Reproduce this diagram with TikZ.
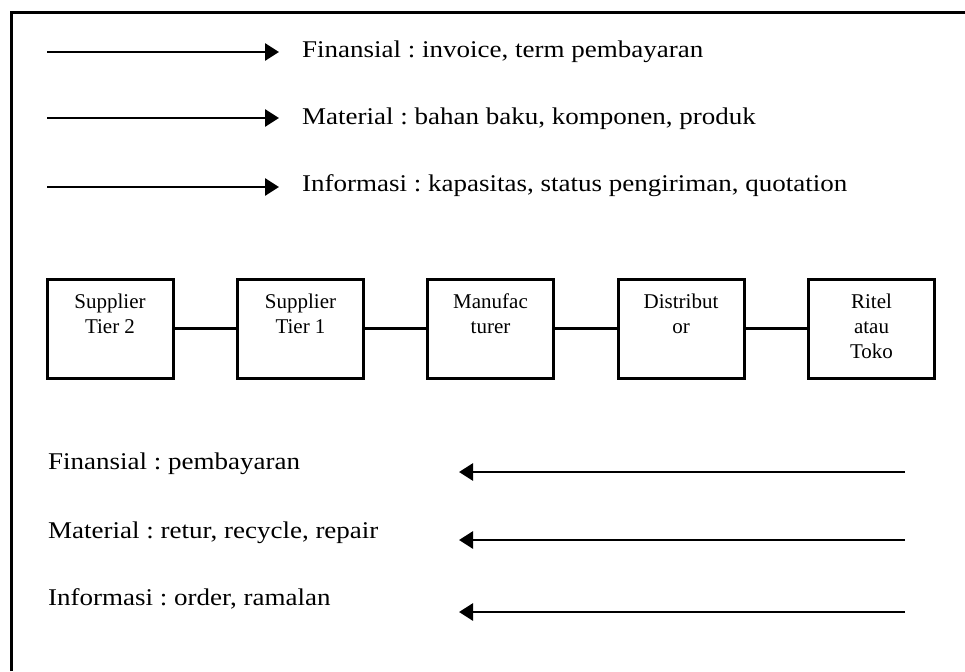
\documentclass[tikz,border=0pt]{standalone}
\usepackage{fontspec}
\setmainfont{Liberation Serif}
\newfontfamily\legfont{Liberation Serif}[FakeStretch=1.125]
\newfontfamily\boxfont{Liberation Serif}
\usetikzlibrary{arrows.meta,calc}
\frenchspacing
\tikzset{
  frameline/.style={line width=3pt},
  legarrow/.style={line width=2.8pt,-{Triangle[length=14pt,width=17pt]}},
  legtext/.style={anchor=base west,inner sep=0pt,font=\legfont\fontsize{24}{28}\selectfont},
  chainbox/.style={draw,line width=3pt,minimum width=126pt,minimum height=99pt,inner sep=0pt},
  boxtext/.style={anchor=north,inner sep=0pt,align=center,font=\boxfont\fontsize{21}{25}\selectfont},
  link/.style={line width=2.8pt}
}
\begin{document}
\begin{tikzpicture}[x=1pt,y=-1pt]
\useasboundingbox (0,0) rectangle (965,671);
\clip (0,0) rectangle (965,671);
\fill[white] (0,0) rectangle (965,671);
% frame
\draw[frameline] (11.5,671) |- (965,13);
% top legend
\coordinate (t1s) at (47,52);  \coordinate (t1e) at (279,52);
\coordinate (t2s) at (47,118); \coordinate (t2e) at (279,118);
\coordinate (t3s) at (47,187); \coordinate (t3e) at (279,187);
\draw[legarrow] (t1s) -- (t1e);
\draw[legarrow] (t2s) -- (t2e);
\draw[legarrow] (t3s) -- (t3e);
\node[legtext] (tl1) at (302,58) {Finansial : invoice, term pembayaran};
\node[legtext] (tl2) at (302,125) {Material : bahan baku, komponen, produk};
\node[legtext] (tl3) at (302,191) {Informasi : kapasitas, status pengiriman, quotation};
% chain boxes
\node[chainbox] (b1) at (110,328.5) {};
\node[chainbox] (b2) at (300.5,328.5) {};
\node[chainbox] (b3) at (490.5,328.5) {};
\node[chainbox] (b4) at (681,328.5) {};
\node[chainbox] (b5) at (871.5,328.5) {};
\node[boxtext] (x1) at ($(b1.north)+(0,16)$) {Supplier\\Tier 2};
\node[boxtext] (x2) at ($(b2.north)+(0,16)$) {Supplier\\Tier 1};
\node[boxtext] (x3) at ($(b3.north)+(0,16)$) {Manufac\\turer};
\node[boxtext] (x4) at ($(b4.north)+(0,16)$) {Distribut\\or};
\node[boxtext] (x5) at ($(b5.north)+(0,16)$) {Ritel\\atau\\Toko};
\draw[link] (b1) -- (b2);
\draw[link] (b2) -- (b3);
\draw[link] (b3) -- (b4);
\draw[link] (b4) -- (b5);
% bottom legend
\node[legtext] (bl1) at (48,469) {Finansial : pembayaran};
\node[legtext] (bl2) at (48,538) {Material : retur, recycle, repair};
\node[legtext] (bl3) at (48,605) {Informasi : order, ramalan};
\coordinate (r1s) at (905,472); \coordinate (r1e) at (459,472);
\coordinate (r2s) at (905,540); \coordinate (r2e) at (459,540);
\coordinate (r3s) at (905,612); \coordinate (r3e) at (459,612);
\draw[legarrow] (r1s) -- (r1e);
\draw[legarrow] (r2s) -- (r2e);
\draw[legarrow] (r3s) -- (r3e);
\end{tikzpicture}
\end{document}
